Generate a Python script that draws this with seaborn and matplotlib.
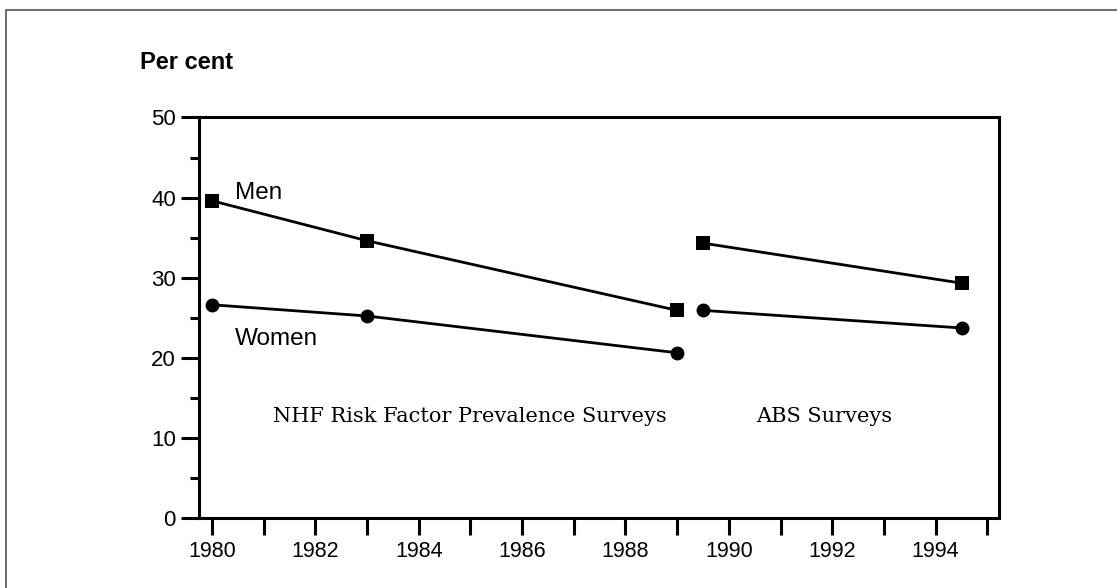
import matplotlib.pyplot as plt
import matplotlib.patches as patches
from matplotlib.ticker import MultipleLocator
import pandas as pd
import seaborn as sns

# survey data (per cent)
nhf_years = [1980, 1983, 1989]
nhf_men = [39.6, 34.6, 25.9]
nhf_women = [26.6, 25.2, 20.6]

abs_years = [1989.5, 1994.5]
abs_men = [34.3, 29.3]
abs_women = [25.9, 23.7]

rows = []
for survey, years, men, women in [
    ("NHF", nhf_years, nhf_men, nhf_women),
    ("ABS", abs_years, abs_men, abs_women),
]:
    for yr, m, w in zip(years, men, women):
        rows.append({"survey": survey, "sex": "Men", "year": yr, "pct": m})
        rows.append({"survey": survey, "sex": "Women", "year": yr, "pct": w})
df = pd.DataFrame(rows)

sns.set_style("ticks")
plt.rcParams["font.family"] = ["Liberation Sans", "DejaVu Sans"]
plt.rcParams["text.color"] = "black"

fig = plt.figure(figsize=(11.17, 5.88), dpi=100)
ax = fig.add_axes([0.1786, 0.1196, 0.7160, 0.6806])

markers = {"Men": "s", "Women": "o"}
for (survey, sex), sub in df.groupby(["survey", "sex"]):
    sns.lineplot(
        data=sub,
        x="year",
        y="pct",
        color="black",
        linewidth=2.0,
        marker=markers[sex],
        markersize=10,
        markeredgewidth=0,
        ax=ax,
    )

ax.set_xlim(1979.76, 1995.23)
ax.set_ylim(0, 50)
ax.xaxis.set_major_locator(MultipleLocator(2))
ax.xaxis.set_minor_locator(MultipleLocator(1))
ax.yaxis.set_major_locator(MultipleLocator(10))
ax.yaxis.set_minor_locator(MultipleLocator(5))
ax.tick_params(axis="x", which="both", direction="out", length=12, width=2.2,
               labelsize=15.5, pad=5, color="black", labelcolor="black")
ax.tick_params(axis="y", which="major", direction="out", length=13, width=2.2,
               labelsize=16, pad=4, color="black", labelcolor="black")
ax.tick_params(axis="y", which="minor", direction="out", length=6.5, width=2.2,
               color="black")
for sp in ax.spines.values():
    sp.set_linewidth(2.2)
    sp.set_color("black")
ax.set_xlabel("")
ax.set_ylabel("")

# series and survey labels
ax.text(1980.45, 39.8, "Men", fontsize=17.5, va="baseline", color="black")
ax.text(1980.45, 21.6, "Women", fontsize=17.5, va="baseline", color="black")
ax.text(1981.18, 12.0, "NHF Risk Factor Prevalence Surveys", fontsize=15,
        family="DejaVu Serif", va="baseline", color="black")
ax.text(1990.53, 12.0, "ABS Surveys", fontsize=15,
        family="DejaVu Serif", va="baseline", color="black")

fig.text(140 / 1117, 1 - 69 / 588, "Per cent", fontsize=17, fontweight="bold",
         va="baseline", color="black")

# thin frame around the figure
fig.patches.append(patches.Rectangle(
    (6 / 1117, -0.1), 1.2, 1.1 - 10 / 588, transform=fig.transFigure,
    fill=False, edgecolor="#555555", linewidth=1.2))

fig.savefig("out.png", dpi=100)
